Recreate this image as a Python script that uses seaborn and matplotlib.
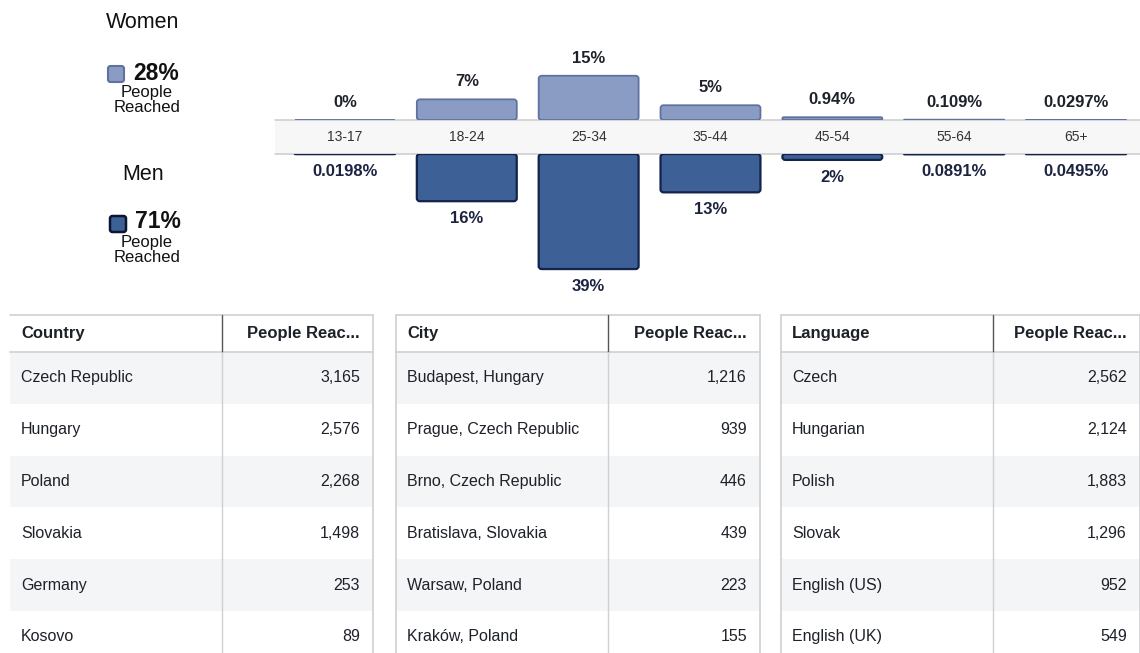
import pandas as pd
import matplotlib.pyplot as plt
import seaborn as sns
from matplotlib.patches import Rectangle, FancyBboxPatch
from matplotlib.transforms import blended_transform_factory

# =========================
# Data
# =========================
ages = ["13-17", "18-24", "25-34", "35-44", "45-54", "55-64", "65+"]
women = [0, 7, 15, 5, 0.94, 0.109, 0.0297]
men = [0.0198, 16, 39, 13, 2, 0.0891, 0.0495]
women_total = "28%"
men_total = "71%"

countries = ["Czech Republic", "Hungary", "Poland", "Slovakia", "Germany", "Kosovo"]
country_reach = [3165, 2576, 2268, 1498, 253, 89]
cities = ["Budapest, Hungary", "Prague, Czech Republic", "Brno, Czech Republic",
          "Bratislava, Slovakia", "Warsaw, Poland", "Kraków, Poland"]
city_reach = [1216, 939, 446, 439, 223, 155]
languages = ["Czech", "Hungarian", "Polish", "Slovak", "English (US)", "English (UK)"]
language_reach = [2562, 2124, 1883, 1296, 952, 549]

df = pd.DataFrame({"age": ages, "women": women, "men": men})

# =========================
# Style
# =========================
sns.set_theme(style="white")
plt.rcParams["font.family"] = ["Liberation Sans", "DejaVu Sans"]

W, H = 1140, 653
WOMEN_FILL, WOMEN_EDGE = "#8b9cc4", "#5f719f"
MEN_FILL, MEN_EDGE = "#3d6196", "#14234a"
TXT = "#1d2129"
PX_PER_PCT = 2.95

fig = plt.figure(figsize=(W / 100, H / 100), dpi=100)

# background axes in pixel units (legend, age band, tables)
bg = fig.add_axes([0, 0, 1, 1])
bg.set_xlim(0, W)
bg.set_ylim(H, 0)
bg.axis("off")

# =========================
# Age / gender bars
# =========================
band_top, band_bot = 120, 154
bar_left, bar_right = 275, 1140
xlim = (-0.574, 6.525)

axw = fig.add_axes([bar_left / W, 1 - band_top / H, (bar_right - bar_left) / W, 80 / H])
axm = fig.add_axes([bar_left / W, 1 - 300 / H, (bar_right - bar_left) / W, (300 - band_bot) / H])

sns.barplot(data=df, x="age", y="women", ax=axw, color=WOMEN_FILL, saturation=1,
            width=0.82, edgecolor=WOMEN_EDGE, linewidth=1.3)
sns.barplot(data=df, x="age", y="men", ax=axm, color=MEN_FILL, saturation=1,
            width=0.82, edgecolor=MEN_EDGE, linewidth=1.6)

axw.set_ylim(0, 80 / PX_PER_PCT)
axm.set_ylim((300 - band_bot) / PX_PER_PCT, 0)
for ax in (axw, axm):
    ax.set_xlim(*xlim)
    ax.set_facecolor("none")
    ax.axis("off")

# swap seaborn's square bars for slightly rounded ones (same geometry)
x_per_px = (xlim[1] - xlim[0]) / (bar_right - bar_left)
y_per_px = 1 / PX_PER_PCT
for ax in (axw, axm):
    for p in list(ax.patches):
        x, y, w, h = p.get_x(), p.get_y(), p.get_width(), p.get_height()
        r_px = min(3.0, abs(h) / y_per_px / 2)
        box = FancyBboxPatch((x, y), w, h,
                             boxstyle=f"round,pad=0,rounding_size={r_px * x_per_px}",
                             mutation_aspect=y_per_px / x_per_px,
                             facecolor=p.get_facecolor(), edgecolor=p.get_edgecolor(),
                             linewidth=p.get_linewidth())
        p.remove()
        ax.add_patch(box)

for i, v in enumerate(women):
    axw.annotate(f"{v:g}%", (i, v), xytext=(0, 12.5), textcoords="offset points",
                 ha="center", va="center", fontsize=12, fontweight="bold", color=TXT,
                 annotation_clip=False)
for i, v in enumerate(men):
    axm.annotate(f"{v:g}%", (i, v), xytext=(0, -12.5), textcoords="offset points",
                 ha="center", va="center", fontsize=12, fontweight="bold", color="#1c2340",
                 annotation_clip=False)

# the grey age band between the two bar groups
bg.add_patch(Rectangle((bar_left, band_top), bar_right - bar_left, band_bot - band_top,
                       facecolor="#f7f7f8", edgecolor="none", zorder=0))
bg.plot([bar_left, bar_right], [band_top, band_top], color="#cfd0d2", lw=1.2, zorder=1)
bg.plot([bar_left, bar_right], [band_bot, band_bot], color="#cfd0d2", lw=1.2, zorder=1)
band_tr = blended_transform_factory(axw.transData, fig.transFigure)
for i, a in enumerate(ages):
    fig.text(i, 1 - 137 / H, a, transform=band_tr, ha="center", va="center",
             fontsize=10, color="#333333")

# =========================
# Women / Men legend
# =========================
bg.text(143, 22, "Women", ha="center", va="center", fontsize=15.5, color="#111111")
bg.add_patch(FancyBboxPatch((108, 66), 16, 16, boxstyle="round,pad=0,rounding_size=2.5",
                            facecolor=WOMEN_FILL, edgecolor=WOMEN_EDGE, lw=1.5))
bg.text(133, 73, women_total, ha="left", va="center", fontsize=16.5, fontweight="bold", color="#111111")
bg.text(147, 92, "People", ha="center", va="center", fontsize=12, color="#111111")
bg.text(147, 108, "Reached", ha="center", va="center", fontsize=12, color="#111111")

bg.text(143, 174, "Men", ha="center", va="center", fontsize=15.5, color="#111111")
bg.add_patch(FancyBboxPatch((110, 216), 16, 16, boxstyle="round,pad=0,rounding_size=2.5",
                            facecolor=MEN_FILL, edgecolor="#0d1530", lw=1.8))
bg.text(135, 222, men_total, ha="left", va="center", fontsize=16.5, fontweight="bold", color="#111111")
bg.text(147, 242, "People", ha="center", va="center", fontsize=12, color="#111111")
bg.text(147, 258, "Reached", ha="center", va="center", fontsize=12, color="#111111")

# =========================
# Tables
# =========================
top, head_bot, row_h = 315, 352, 51.8


def draw_table(left, divider, right, header, names, values, left_border=True):
    for r in range(len(names)):
        y0 = head_bot + r * row_h
        if r % 2 == 0:
            bg.add_patch(Rectangle((left, y0), right - left, row_h,
                                   facecolor="#f4f5f7", edgecolor="none", zorder=0))
        yc = y0 + row_h / 2
        bg.text(left + 11, yc, names[r], ha="left", va="center", fontsize=11.5, color=TXT)
        bg.text(right - 13, yc, f"{values[r]:,}", ha="right",
                va="center", fontsize=11.5, color=TXT)
    bg.plot([left, right], [top, top], color="#cfd0d2", lw=1.2)
    bg.plot([left, right], [head_bot, head_bot], color="#cfd0d2", lw=1.2)
    bg.plot([divider, divider], [top, head_bot], color="#555555", lw=1)
    bg.plot([divider, divider], [head_bot, H], color="#cfd0d2", lw=1)
    bg.plot([right, right], [top, H], color="#cfd0d2", lw=1.2)
    if left_border:
        bg.plot([left, left], [top, H], color="#cfd0d2", lw=1.2)
    hy = (top + head_bot) / 2
    bg.text(left + 11, hy, header, ha="left", va="center", fontsize=12,
            fontweight="bold", color=TXT)
    bg.text(right - 13, hy, "People Reac...", ha="right", va="center", fontsize=12,
            fontweight="bold", color=TXT)


draw_table(10, 222, 373, "Country", countries, country_reach, left_border=False)
draw_table(396, 608, 760, "City", cities, city_reach)
draw_table(781, 993, 1140, "Language", languages, language_reach)

fig.savefig("out.png", dpi=100)
